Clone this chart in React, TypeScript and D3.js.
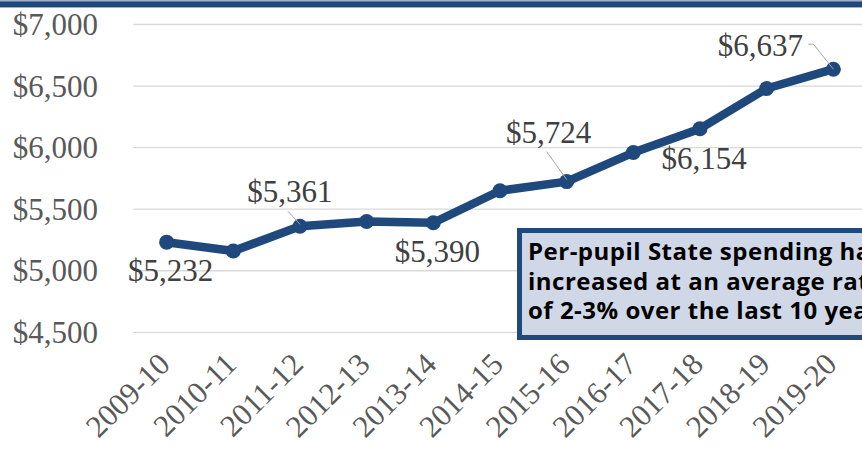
import React from 'react';
import * as d3 from 'd3';

const years = ['2009-10', '2010-11', '2011-12', '2012-13', '2013-14', '2014-15', '2015-16', '2016-17', '2017-18', '2018-19', '2019-20'];
const spending = [5232, 5160, 5361, 5400, 5390, 5650, 5724, 5960, 6154, 6480, 6637];
const yTicks = [4500, 5000, 5500, 6000, 6500, 7000];
const noteLines = ['Per-pupil State spending has', 'increased at an average rate', 'of 2-3% over the last 10 years'];

// which points get a label, and where it sits relative to the marker
const labelSpots = [
  { i: 0, dx: 4, dy: 39 },
  { i: 2, dx: -10, dy: -24, leader: true },
  { i: 4, dx: 4, dy: 39 },
  { i: 6, dx: -18, dy: -39, leader: true },
  { i: 8, dx: 4, dy: 40 },
  { i: 10, dx: -73, dy: -13, leader: true, elbow: true },
];

const W = 862;
const H = 449;
const BLUE = '#1F497D';
const fmt = d3.format('$,');
const SERIF = "'Liberation Serif', 'Times New Roman', serif";

export default function App() {
  const x = d3.scaleBand().domain(years).range([133.3, 866.7]).padding(0);
  const cx = (d: string) => (x(d) as number) + x.bandwidth() / 2;
  const y = d3.scaleLinear().domain([4500, 7000]).range([332.3, 24.5]);

  const line = d3.line<number>()
    .x((_, i) => cx(years[i]))
    .y(d => y(d));

  return (
    <svg width={W} height={H} style={{ position: 'absolute', left: 0, top: 0, background: '#fff' }}>
      {/* header rule */}
      <rect x={0} y={0} width={W} height={8} fill="#9FB0C8" />
      <rect x={0} y={1.5} width={W} height={5.5} fill={BLUE} />

      {yTicks.map(t => (
        <g key={t}>
          <line x1={133.3} x2={W} y1={y(t)} y2={y(t)} stroke="#D9D9D9" strokeWidth={1.3} />
          <text x={98} y={y(t) + 10.5} textAnchor="end" fontFamily={SERIF} fontSize={31} fill="#595959">{fmt(t)}</text>
        </g>
      ))}

      {years.map(d => (
        <text key={d} transform={`translate(${cx(d) + 5},${366}) rotate(-45)`} textAnchor="end"
          fontFamily={SERIF} fontSize={31} fill="#595959">{d}</text>
      ))}

      <path d={line(spending) || ''} fill="none" stroke={BLUE} strokeWidth={8.5} strokeLinejoin="round" />
      {spending.map((v, i) => (
        <circle key={i} cx={cx(years[i])} cy={y(v)} r={7.5} fill={BLUE} />
      ))}

      {labelSpots.map(s => {
        const px = cx(years[s.i]);
        const py = y(spending[s.i]);
        const tx = px + s.dx;
        const ty = py + s.dy;
        let leader = null;
        if (s.leader) {
          leader = s.elbow
            ? <polyline points={`${tx + 48},${ty - 12} ${tx + 53},${ty - 12} ${px},${py}`} fill="none" stroke="#A6A6A6" strokeWidth={1} />
            : <line x1={tx - 2} y1={ty + 9} x2={px} y2={py - 2} stroke="#A6A6A6" strokeWidth={1} />;
        }
        return (
          <g key={s.i}>
            {leader}
            <text x={tx} y={ty} textAnchor="middle" fontFamily={SERIF} fontSize={31} fill="#404040">{fmt(spending[s.i])}</text>
          </g>
        );
      })}

      {/* callout box, runs off the right edge like the original */}
      <rect x={519.5} y={230.5} width={400} height={107} fill="#D0D8E8" stroke={BLUE} strokeWidth={5} />
      {noteLines.map((t, i) => (
        <text key={i} x={528} y={260 + i * 29.5} fontFamily="'Open Sans', Lato, sans-serif" fontWeight="bold"
          fontSize={24} letterSpacing={0.5} fill="#000">{t}</text>
      ))}
    </svg>
  );
}
